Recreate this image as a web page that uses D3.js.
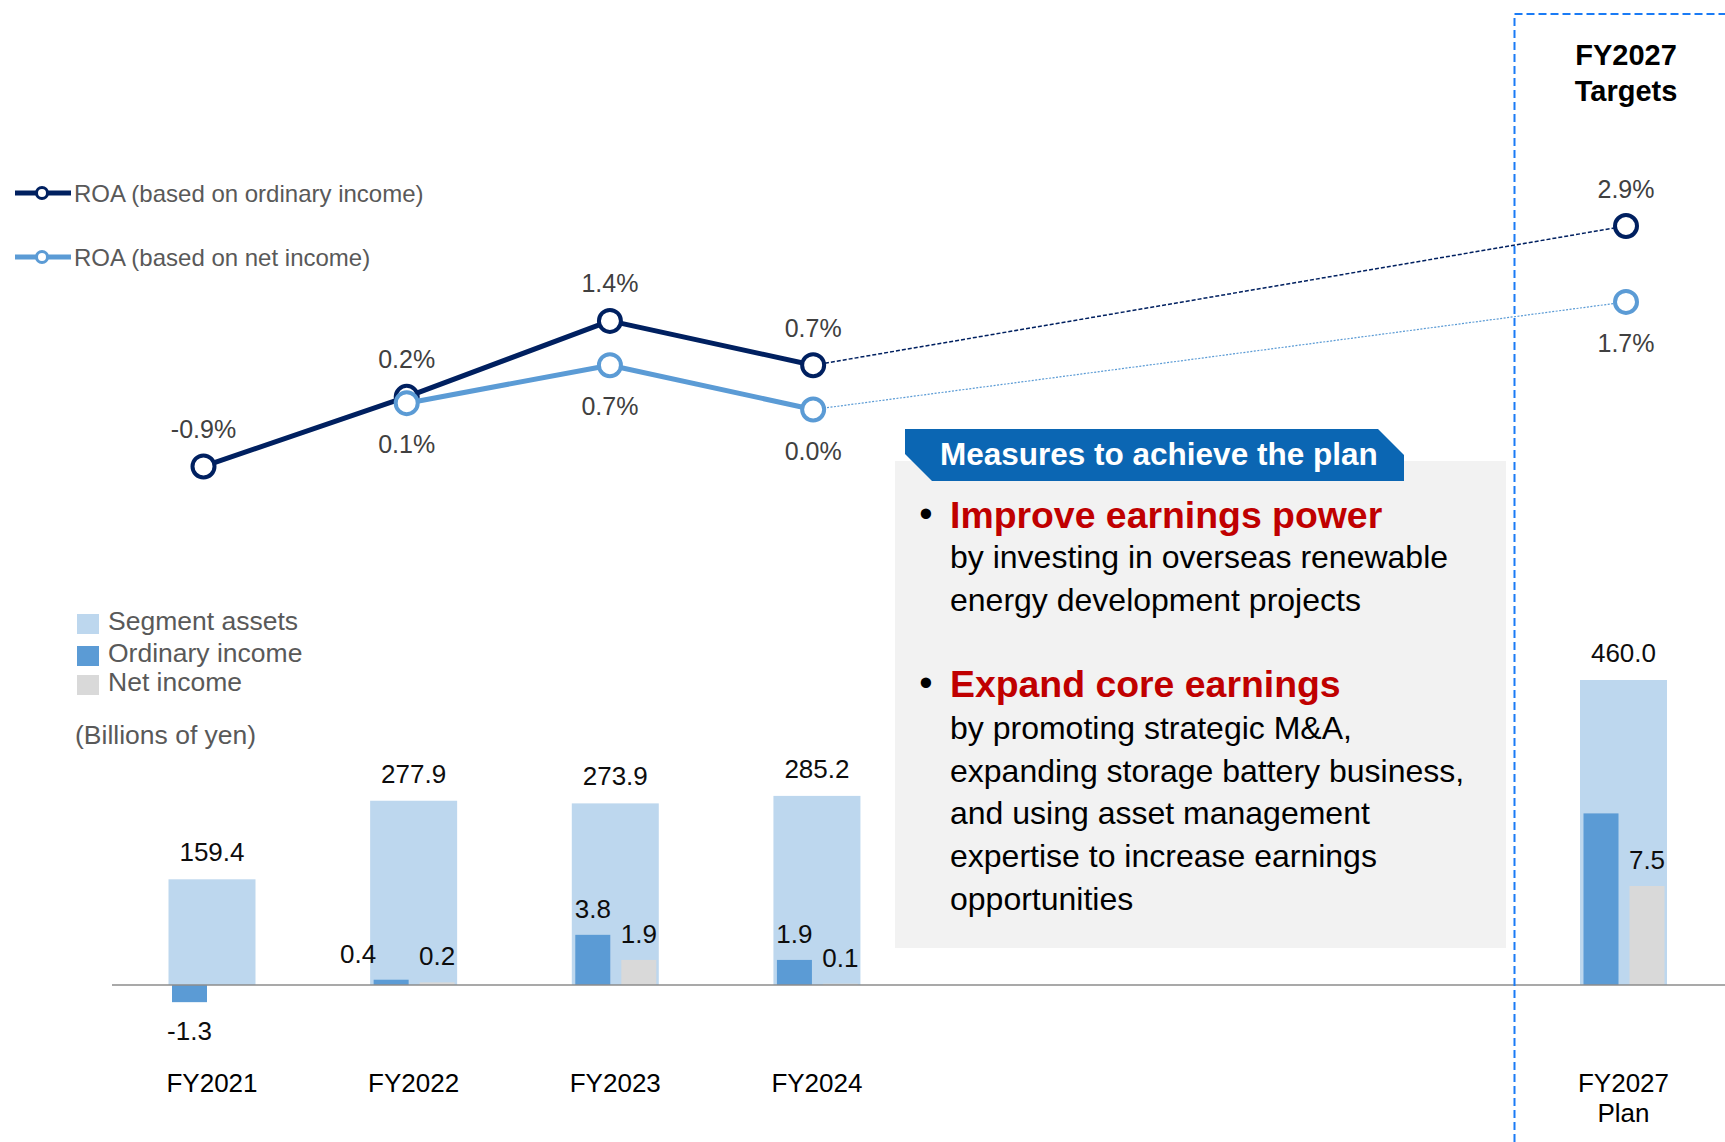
<!DOCTYPE html>
<html>
<head>
<meta charset="utf-8">
<script src="https://cdn.jsdelivr.net/npm/d3@7"></script>
<style>
  html, body { margin: 0; padding: 0; background: #ffffff; }
  svg { display: block; font-family: "Liberation Sans", Arial, Helvetica, sans-serif; }
</style>
</head>
<body>
<svg id="chart" width="1725" height="1142"></svg>
<script>
// ---- data ----
const categories = ["FY2021", "FY2022", "FY2023", "FY2024", "FY2027"];
const categoryLabels = [["FY2021"], ["FY2022"], ["FY2023"], ["FY2024"], ["FY2027", "Plan"]];
// position of each category on the year axis (FY2025/26 are left empty)
const slotIndex = [0, 1, 2, 3, 7];
const segmentAssets = [159.4, 277.9, 273.9, 285.2, 460.0];       // billions of yen
const ordinaryIncome = [-1.3, 0.4, 3.8, 1.9, 13.0];              // billions of yen
const ordinaryIncomeShown = [true, true, true, true, false];
const netIncome = [null, 0.2, 1.9, 0.1, 7.5];                    // billions of yen
const roaOrdinary = [-0.9, 0.2, 1.4, 0.7, 2.9];                  // %
const roaNet = [null, 0.1, 0.7, 0.0, 1.7];                       // %
const barLegend = ["Segment assets", "Ordinary income", "Net income"];
const lineLegend = ["ROA (based on ordinary income)", "ROA (based on net income)"];
const measuresTitle = "Measures to achieve the plan";
const measures = [
  { head: "Improve earnings power",
    body: ["by investing in overseas renewable", "energy development projects"] },
  { head: "Expand core earnings",
    body: ["by promoting strategic M&A,", "expanding storage battery business,",
           "and using asset management", "expertise to increase earnings", "opportunities"] }
];

// ---- style ----
const C = {
  assets: "#BDD7EE", ordinary: "#5B9BD5", net: "#D9D9D9",
  roaOrd: "#002060", roaNet: "#5B9BD5",
  axis: "#8C8C8C", value: "#0D0D0D", roaText: "#404040", legend: "#595959",
  box: "#F2F2F2", banner: "#0B66B3", red: "#C00000", target: "#1A7BF5"
};

const svg = d3.select("#chart");
// one-decimal numbers with a plain hyphen for negatives
const fmt1 = d3.formatLocale({ decimal: ".", thousands: ",", grouping: [3], currency: ["", ""], minus: "-" }).format(".1f");

// ---- scales ----
const xBar = d3.scaleLinear().domain([0, 7]).range([212, 1623.5]);
const xLine = d3.scaleLinear().domain([0, 7]).range([203.5, 1626]);
const yAssets = d3.scaleLinear().domain([0, 460]).range([985, 680]);
const yIncome = d3.scaleLinear().domain([0, 7.5]).range([985, 886]);
const yRoa = d3.scaleLinear().domain([0, 2.9]).range([409.5, 226]);
const bandW = 87, incW = 35;

// ---- measures callout ----
const box = svg.append("g");
box.append("rect").attr("x", 895).attr("y", 461).attr("width", 611).attr("height", 487).attr("fill", C.box);
box.append("path")
  .attr("d", d3.line()([[905, 429], [1378, 429], [1404, 455], [1404, 481], [932, 481], [905, 454]]) + "Z")
  .attr("fill", C.banner);
box.append("text").attr("x", 940).attr("y", 464.5).attr("fill", "#fff")
  .attr("font-size", 31.5).attr("font-weight", "bold").text(measuresTitle);

const headY = [528, 697];
const bodyY = [[568, 611], [739, 782, 824, 867, 910]];
measures.forEach((m, i) => {
  box.append("text").attr("x", 926).attr("y", headY[i] - 1).attr("text-anchor", "middle")
    .attr("font-size", 38).attr("fill", "#000").text("\u2022");
  box.append("text").attr("x", 950).attr("y", headY[i]).attr("font-size", 37.4)
    .attr("font-weight", "bold").attr("fill", C.red).text(m.head);
  m.body.forEach((line, j) => {
    box.append("text").attr("x", 950).attr("y", bodyY[i][j]).attr("font-size", 32)
      .attr("fill", "#000").text(line);
  });
});

// ---- bars ----
const bars = svg.append("g");
categories.forEach((cat, i) => {
  const c = xBar(slotIndex[i]);
  bars.append("rect").attr("x", c - bandW / 2).attr("y", yAssets(segmentAssets[i]))
    .attr("width", bandW).attr("height", yAssets(0) - yAssets(segmentAssets[i])).attr("fill", C.assets);
  const o = ordinaryIncome[i];
  bars.append("rect").attr("x", c - 40).attr("y", Math.min(yIncome(o), yIncome(0)))
    .attr("width", incW).attr("height", Math.abs(yIncome(o) - yIncome(0))).attr("fill", C.ordinary);
  if (netIncome[i] != null) {
    const n = netIncome[i];
    bars.append("rect").attr("x", c + 6).attr("y", yIncome(n))
      .attr("width", incW).attr("height", yIncome(0) - yIncome(n)).attr("fill", C.net);
  }
});

// zero line
svg.append("line").attr("x1", 112).attr("x2", 1725).attr("y1", yIncome(0)).attr("y2", yIncome(0))
  .attr("stroke", C.axis).attr("stroke-width", 1.5);

// bar value labels
const vlab = svg.append("g").attr("font-size", 26).attr("fill", C.value).attr("text-anchor", "middle");
categories.forEach((cat, i) => {
  const c = xBar(slotIndex[i]);
  vlab.append("text").attr("x", c).attr("y", yAssets(segmentAssets[i]) - 18).text(fmt1(segmentAssets[i]));
  if (ordinaryIncomeShown[i]) {
    const o = ordinaryIncome[i];
    // very small pairs get their ordinary label pushed left of the bar
    const dx = (Math.abs(o) < 1 && netIncome[i] != null && netIncome[i] < 1) ? -33 : 0;
    vlab.append("text").attr("x", c - 22.5 + dx)
      .attr("y", o < 0 ? yIncome(o) + 38 : yIncome(o) - 17)
      .text(fmt1(o));
  }
  if (netIncome[i] != null) {
    vlab.append("text").attr("x", c + 23.5).attr("y", yIncome(netIncome[i]) - 17)
      .text(fmt1(netIncome[i]));
  }
});

// category axis labels
const xl = svg.append("g").attr("font-size", 26).attr("fill", "#000").attr("text-anchor", "middle");
categoryLabels.forEach((lines, i) => {
  lines.forEach((t, j) => {
    xl.append("text").attr("x", xBar(slotIndex[i])).attr("y", 1092 + j * 30).text(t);
  });
});

// ---- ROA lines ----
function roaSeries(values, color, labelBelow) {
  const pts = values.map((v, i) => v == null ? null : [xLine(slotIndex[i]), yRoa(v), v]).filter(p => p);
  const actual = pts.slice(0, -1), plan = pts.slice(-2);
  const g = svg.append("g");
  g.append("path").attr("d", d3.line()(actual)).attr("fill", "none")
    .attr("stroke", color).attr("stroke-width", 5).attr("stroke-linejoin", "round");
  g.append("path").attr("d", d3.line()(plan)).attr("fill", "none")
    .attr("stroke", color).attr("stroke-width", labelBelow ? 1.2 : 1.5)
    .attr("stroke-dasharray", labelBelow ? "2,1.5" : "4,2");
  g.selectAll("circle").data(pts).join("circle")
    .attr("cx", d => d[0]).attr("cy", d => d[1]).attr("r", 11)
    .attr("fill", "#fff").attr("stroke", color).attr("stroke-width", 4);
  g.selectAll("text").data(pts).join("text")
    .attr("x", d => d[0]).attr("y", d => labelBelow ? d[1] + 50 : d[1] - 28.5)
    .attr("text-anchor", "middle").attr("font-size", 25).attr("fill", C.roaText)
    .text(d => fmt1(d[2]) + "%");
}
roaSeries(roaOrdinary, C.roaOrd, false);
roaSeries(roaNet, C.roaNet, true);

// ---- legends ----
const lg = svg.append("g");
[C.roaOrd, C.roaNet].forEach((col, i) => {
  const y = 193 + i * 64;
  lg.append("line").attr("x1", 15).attr("x2", 71).attr("y1", y).attr("y2", y)
    .attr("stroke", col).attr("stroke-width", 5);
  lg.append("circle").attr("cx", 42).attr("cy", y).attr("r", 5.5)
    .attr("fill", "#fff").attr("stroke", col).attr("stroke-width", 3);
  lg.append("text").attr("x", 74).attr("y", y + 8.5).attr("font-size", 24)
    .attr("fill", C.legend).text(lineLegend[i]);
});
const barCols = [C.assets, C.ordinary, C.net];
const barRowY = [614, 646, 675];
barLegend.forEach((t, i) => {
  lg.append("rect").attr("x", 77).attr("y", barRowY[i]).attr("width", 22).attr("height", 20).attr("fill", barCols[i]);
  lg.append("text").attr("x", 108).attr("y", barRowY[i] + 16).attr("font-size", 26.5)
    .attr("fill", C.legend).text(t);
});
lg.append("text").attr("x", 75).attr("y", 744).attr("font-size", 26.5).attr("fill", C.legend).text("(Billions of yen)");

// ---- FY2027 target frame ----
const tf = svg.append("g");
tf.append("path").attr("d", d3.line()([[1514.5, 1142], [1514.5, 14], [1725, 14]]))
  .attr("fill", "none").attr("stroke", C.target).attr("stroke-width", 2).attr("stroke-dasharray", "8,4");
["FY2027", "Targets"].forEach((t, j) => {
  tf.append("text").attr("x", 1626).attr("y", 65 + j * 36).attr("text-anchor", "middle")
    .attr("font-size", 29).attr("font-weight", "bold").attr("fill", "#000").text(t);
});
</script>
</body>
</html>
